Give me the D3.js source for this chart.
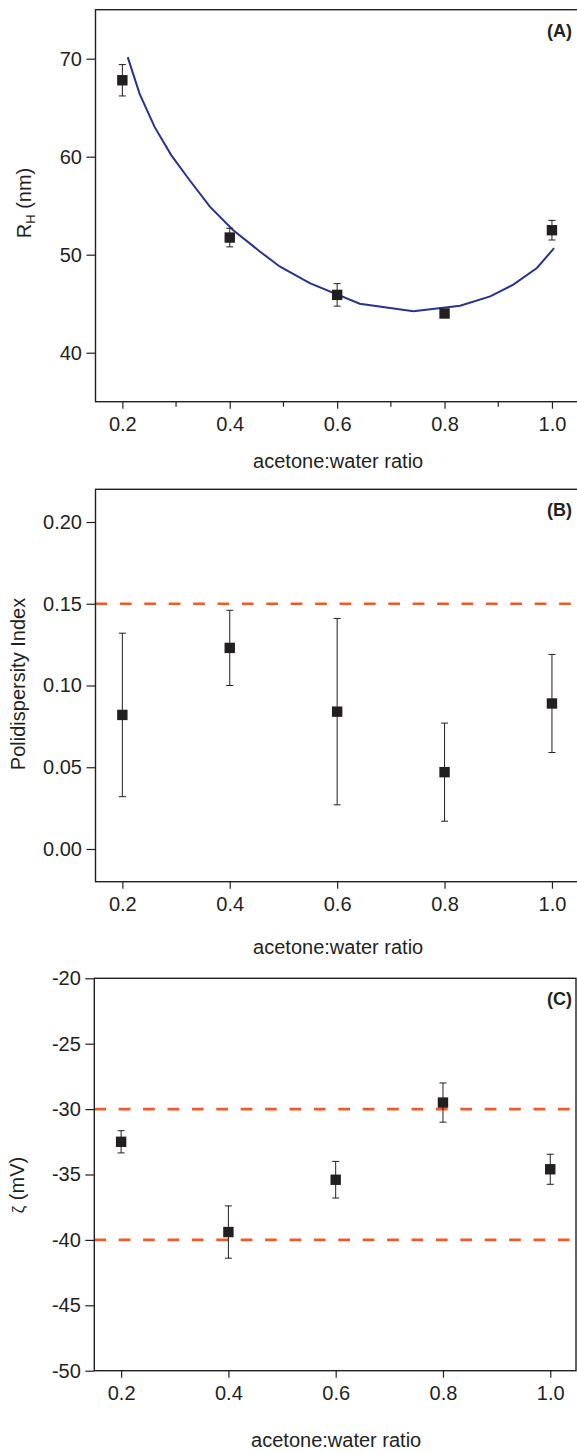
<!DOCTYPE html>
<html>
<head>
<meta charset="utf-8">
<script src="https://cdn.jsdelivr.net/npm/d3@7"></script>
<style>
  html, body { margin: 0; padding: 0; background: #ffffff; }
  svg { display: block; }
  text { font-family: "Liberation Sans", Arial, Helvetica, sans-serif; fill: #231f20; }
</style>
</head>
<body>
<svg id="chart" width="577" height="1453"></svg>
<script>
// ---------- data ----------
const ratios = [0.2, 0.4, 0.6, 0.8, 1.0];
const xTicks = [0.2, 0.4, 0.6, 0.8, 1.0];
const xTickLabels = ["0.2", "0.4", "0.6", "0.8", "1.0"];
const xMinorTicksA = [0.3, 0.5, 0.7, 0.9];

// Panel A: hydrodynamic radius
const rhValues = [67.8, 51.75, 45.9, 44.0, 52.5];
const rhErrors = [1.6, 0.95, 1.15, 0.3, 1.0];
const fitX = [0.210, 0.232, 0.260, 0.291, 0.325, 0.363, 0.406, 0.456, 0.493, 0.549, 0.642, 0.742, 0.829, 0.885, 0.928, 0.972, 1.004];
const fitY = [70.16, 66.44, 63.04, 60.16, 57.62, 54.9, 52.53, 50.33, 48.8, 47.1, 45.0, 44.22, 44.8, 45.75, 46.94, 48.64, 50.67];
const rhTicks = [40, 50, 60, 70];
const rhTickLabels = ["40", "50", "60", "70"];

// Panel B: polydispersity index
const pdiValues = [0.082, 0.123, 0.084, 0.047, 0.089];
const pdiErrors = [0.05, 0.023, 0.057, 0.03, 0.03];
const pdiThresholds = [0.15];
const pdiTicks = [0.00, 0.05, 0.10, 0.15, 0.20];
const pdiTickLabels = ["0.00", "0.05", "0.10", "0.15", "0.20"];

// Panel C: zeta potential
const zetaValues = [-32.5, -39.4, -35.4, -29.5, -34.6];
const zetaErrors = [0.85, 2.0, 1.4, 1.5, 1.15];
const zetaThresholds = [-30, -40];
const zetaTicks = [-50, -45, -40, -35, -30, -25, -20];
const zetaTickLabels = ["-50", "-45", "-40", "-35", "-30", "-25", "-20"];

// ---------- drawing ----------
const svg = d3.select("#chart");
const INK = "#231f20";
const FS = 20;

function panel(cfg) {
  const g = svg.append("g");
  const x = d3.scaleLinear().domain(cfg.xDomain).range([cfg.left, cfg.right]);
  const y = d3.scaleLinear().domain(cfg.yDomain).range([cfg.bottom, cfg.top]);

  // threshold dashed lines
  (cfg.thresholds || []).forEach(t => {
    g.append("line")
      .attr("x1", cfg.left).attr("x2", cfg.right)
      .attr("y1", y(t)).attr("y2", y(t))
      .attr("stroke", "#f05a28").attr("stroke-width", 2.6)
      .attr("stroke-dasharray", "11.7,12.7");
  });

  // fit curve
  if (cfg.fitX) {
    const pts = cfg.fitX.map((v, i) => [v, cfg.fitY[i]]);
    g.append("path")
      .datum(pts)
      .attr("fill", "none")
      .attr("stroke", "#27338f")
      .attr("stroke-width", 2)
      .attr("d", d3.line().x(d => x(d[0])).y(d => y(d[1])));
  }

  // error bars
  const eb = g.append("g").attr("stroke", INK).attr("stroke-width", 1);
  cfg.values.forEach((v, i) => {
    const cx = x(ratios[i]);
    const hi = y(v + cfg.errors[i]), lo = y(v - cfg.errors[i]);
    eb.append("line").attr("x1", cx).attr("x2", cx).attr("y1", hi).attr("y2", lo);
    eb.append("line").attr("x1", cx - 3.5).attr("x2", cx + 3.5).attr("y1", hi).attr("y2", hi);
    eb.append("line").attr("x1", cx - 3.5).attr("x2", cx + 3.5).attr("y1", lo).attr("y2", lo);
  });

  // markers
  g.selectAll("rect.pt")
    .data(cfg.values)
    .enter().append("rect")
    .attr("class", "pt")
    .attr("x", (d, i) => x(ratios[i]) - 5.2)
    .attr("y", d => y(d) - 5.2)
    .attr("width", 10.4).attr("height", 10.4)
    .attr("fill", INK);

  // frame
  g.append("rect")
    .attr("x", cfg.left).attr("y", cfg.top)
    .attr("width", cfg.right - cfg.left).attr("height", cfg.bottom - cfg.top)
    .attr("fill", "none").attr("stroke", INK).attr("stroke-width", 1.4);

  // x axis
  const xa = g.append("g")
    .attr("transform", `translate(0,${cfg.bottom})`)
    .call(d3.axisBottom(x).tickValues(xTicks)
      .tickFormat((d, i) => xTickLabels[i])
      .tickSize(7).tickPadding(8.5).tickSizeOuter(0));
  if (cfg.minor) {
    xa.selectAll(".minor").data(cfg.minor).enter().append("line")
      .attr("class", "minor")
      .attr("x1", d => x(d)).attr("x2", d => x(d))
      .attr("y1", 0).attr("y2", 5)
      .attr("stroke", INK).attr("stroke-width", 1.2);
  }

  // y axis
  const ya = g.append("g")
    .attr("transform", `translate(${cfg.left},0)`)
    .call(d3.axisLeft(y).tickValues(cfg.yTicks)
      .tickFormat((d, i) => cfg.yTickLabels[i])
      .tickSize(9).tickPadding(4.5).tickSizeOuter(0));

  [xa, ya].forEach(a => {
    a.select(".domain").remove();
    a.selectAll(".tick line").attr("stroke", INK).attr("stroke-width", 1.2);
    a.selectAll(".tick text")
      .attr("fill", INK)
      .style("font-family", '"Liberation Sans", Arial, sans-serif')
      .style("font-size", FS + "px");
  });

  // x title
  g.append("text")
    .attr("x", (cfg.left + cfg.right) / 2 + 1)
    .attr("y", cfg.xTitleY)
    .attr("text-anchor", "middle")
    .style("font-size", FS + "px")
    .text("acetone:water ratio");

  // panel letter
  g.append("text")
    .attr("x", 572).attr("y", cfg.top + 27)
    .attr("text-anchor", "end")
    .style("font-size", "18px").style("font-weight", "bold")
    .text(cfg.letter);

  // y title
  const yt = g.append("text")
    .attr("transform", `translate(${cfg.yTitleX},${cfg.yTitleY}) rotate(-90)`)
    .attr("text-anchor", "middle")
    .style("font-size", FS + "px");
  cfg.yTitle(yt);
}

panel({
  left: 95.5, right: 578.8, top: 9.7, bottom: 401.7,
  xDomain: [0.15, 1.05], yDomain: [35, 75],
  values: rhValues, errors: rhErrors,
  fitX: fitX, fitY: fitY,
  yTicks: rhTicks, yTickLabels: rhTickLabels,
  minor: xMinorTicksA,
  xTitleY: 468, letter: "(A)",
  yTitleX: 31, yTitleY: 203,
  yTitle: t => {
    t.append("tspan").text("R");
    t.append("tspan").attr("dy", 4).style("font-size", "13px").text("H");
    t.append("tspan").attr("dy", -4).text(" (nm)");
  }
});

panel({
  left: 95.5, right: 578.8, top: 489.3, bottom: 881.7,
  xDomain: [0.15, 1.05], yDomain: [-0.02, 0.22],
  values: pdiValues, errors: pdiErrors,
  thresholds: pdiThresholds,
  yTicks: pdiTicks, yTickLabels: pdiTickLabels,
  xTitleY: 954, letter: "(B)",
  yTitleX: 25, yTitleY: 684,
  yTitle: t => t.text("Polidispersity Index")
});

panel({
  left: 94.3, right: 576, top: 978.3, bottom: 1370.7,
  xDomain: [0.15, 1.048], yDomain: [-50, -20],
  values: zetaValues, errors: zetaErrors,
  thresholds: zetaThresholds,
  yTicks: zetaTicks, yTickLabels: zetaTickLabels,
  xTitleY: 1447, letter: "(C)",
  yTitleX: 23.5, yTitleY: 1185,
  yTitle: t => {
    t.append("tspan").style("font-size", "17px").text("ζ");
    t.append("tspan").text(" (mV)");
  }
});
</script>
</body>
</html>
